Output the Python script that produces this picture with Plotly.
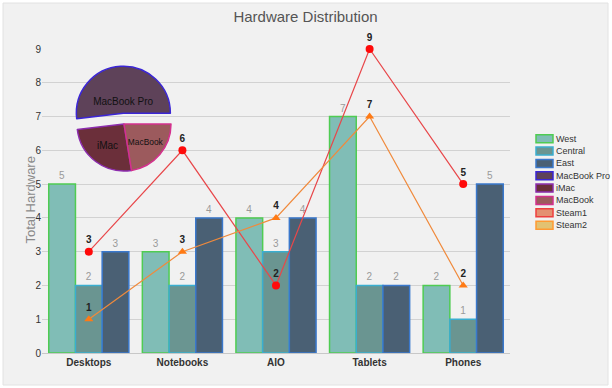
import plotly.graph_objects as go

# ---------------- data ----------------
categories = ["Desktops", "Notebooks", "AIO", "Tablets", "Phones"]
west = [5, 3, 4, 7, 2]
central = [2, 2, 3, 2, 1]
east = [3, 4, 4, 2, 5]
steam1 = [3, 6, 2, 9, 5]
steam2 = [1, 3, 4, 7, 2]
pie_labels = ["MacBook Pro", "iMac", "MacBook"]
pie_values = [46.78, 23.18, 20.25]
y_ticks = [0, 1, 2, 3, 4, 5, 6, 7, 8, 9]

# ---------------- geometry helpers (pixels -> paper) ----------------
W, H = 612, 388
L, R, T, B = 42, 102, 49, 35
PW, PH = W - L - R, H - T - B


def px(x):
    return (x - L) / PW


def py(y):
    return (H - B - y) / PH


FONT = "Arial, Liberation Sans, sans-serif"

bar_styles = [
    ("West", west, "#80bdb6", "#4fcc52"),
    ("Central", central, "#6a9591", "#3aaed0"),
    ("East", east, "#4a6074", "#3a78cc"),
]
pie_fill = ["#5e4259", "#6b2f3a", "#9c5a5d"]
pie_line = ["#3b26d6", "#8c2cae", "#d4308e"]
line_styles = [
    ("Steam1", steam1, "#e8474a", "#ff0a0a", "circle", "#e49072", "#ee3f3f"),
    ("Steam2", steam2, "#f08a3c", "#ff7a14", "triangle-up", "#e2c272", "#ff9a33"),
]

fig = go.Figure()

for name, vals, fill, edge in bar_styles:
    fig.add_trace(go.Bar(
        name=name, x=categories, y=vals,
        marker=dict(color=fill, line=dict(color=edge, width=1.5)),
        text=vals, textposition="outside", cliponaxis=False,
        textfont=dict(size=10, color="#9a9a9a", family=FONT),
        showlegend=False,
    ))

for name, vals, lc, mc, sym, _, _ in line_styles:
    fig.add_trace(go.Scatter(
        name=name, x=categories, y=vals, mode="lines+markers+text",
        line=dict(color=lc, width=1.2),
        marker=dict(color=mc, size=8, symbol=sym),
        text=[f"<b>{v}</b>" for v in vals], textposition="top center",
        textfont=dict(size=10, color="#222", family=FONT),
        cliponaxis=False, showlegend=False,
    ))

# pie centred at (124,124) px, radius ~47 px, MacBook Pro pulled out;
# first slice starts at 3 o'clock and runs counter-clockwise
pull = 0.23
half = 47 * (1 + pull)
cx, cy = 124, 124
rotation = 90 - 360 * pie_values[0] / sum(pie_values)
fig.add_trace(go.Pie(
    labels=pie_labels, values=pie_values, sort=False,
    direction="counterclockwise", rotation=rotation,
    pull=[pull, 0, 0],
    marker=dict(colors=pie_fill, line=dict(color=pie_line, width=1.5)),
    textinfo="label", textposition="inside", insidetextorientation="horizontal",
    textfont=dict(size=10, color="#111", family=FONT),
    domain=dict(x=[px(cx - half), px(cx + half)], y=[py(cy + half), py(cy - half)]),
    showlegend=False,
))

# ---------------- frame + manual legend ----------------
shapes = [dict(type="rect", xref="paper", yref="paper", layer="below",
               x0=px(3), x1=px(608), y0=py(385), y1=py(3),
               fillcolor="#f1f1f1", line=dict(color="#e2e2e2", width=1))]
annotations = []

legend_items = [(n, f, e) for n, _, f, e in bar_styles]
legend_items += [(lbl, f, e) for lbl, f, e in zip(pie_labels, pie_fill, pie_line)]
legend_items += [(n, f, e) for n, _, _, _, _, f, e in line_styles]

y0 = 138.7
step = 12.35
for i, (name, fill, edge) in enumerate(legend_items):
    yc = y0 + i * step
    shapes.append(dict(type="rect", xref="paper", yref="paper",
                       x0=px(536), x1=px(553), y0=py(yc + 4), y1=py(yc - 4),
                       fillcolor=fill, line=dict(color=edge, width=1.5)))
    annotations.append(dict(text=name, xref="paper", yref="paper",
                            x=px(554), y=py(yc), xanchor="left", yanchor="middle",
                            showarrow=False, font=dict(size=9, color="#333", family=FONT)))

annotations.append(dict(text="Total Hardware", xref="paper", yref="paper",
                        x=px(29.5), y=py(200), textangle=-90, showarrow=False,
                        xanchor="center", yanchor="middle",
                        font=dict(size=13, color="#8a8a8a", family=FONT)))

fig.update_layout(
    width=W, height=H,
    margin=dict(l=L, r=R, t=T, b=B),
    paper_bgcolor="#ffffff", plot_bgcolor="rgba(0,0,0,0)",
    barmode="group", bargap=0.144, bargroupgap=0,
    title=dict(text="Hardware Distribution", x=305.5 / W, xref="container",
               y=1 - 11 / H, yref="container", yanchor="top", xanchor="center",
               font=dict(size=15, color="#555", family=FONT)),
    font=dict(family=FONT),
    shapes=shapes, annotations=annotations,
    showlegend=False,
    xaxis=dict(showgrid=False, showline=True, linecolor="#c8c8c8", linewidth=1,
               ticks="", tickfont=dict(size=10, color="#333", family=FONT)),
    yaxis=dict(range=[0, 9], tickvals=y_ticks, showgrid=True, gridcolor="#d2d2d2",
               gridwidth=1, zeroline=False, ticks="", showline=False,
               tickfont=dict(size=10, color="#333", family=FONT)),
)
fig.update_xaxes(tickprefix="<b>", ticksuffix="</b>")
fig.update_yaxes(tickprefix="<b>", ticksuffix="</b>")

fig.write_html("out.html", config={"displayModeBar": False},
               post_script="document.body.style.margin='0';")
